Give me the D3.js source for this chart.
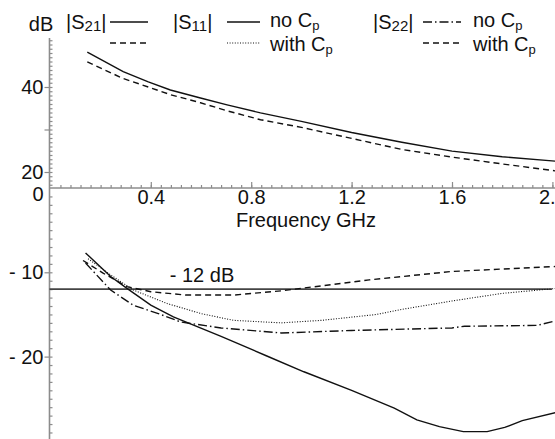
<!DOCTYPE html>
<html>
<head>
<meta charset="utf-8">
<script src="https://cdn.jsdelivr.net/npm/d3@7"></script>
<style>
  html, body { margin: 0; padding: 0; background: #fff; }
  svg { display: block; }
  svg text { font-family: "Liberation Sans", Arial, Helvetica, sans-serif; }
</style>
</head>
<body>
<svg id="chart" width="555" height="439"></svg>
<script>
// Frequency axis tick labels (GHz)
const freqTicks = [0.4, 0.8, 1.2, 1.6, 2.0];

// |S21| gain curves (dB) — upper panel
const s21Freq   = [0.147, 0.29, 0.39, 0.478, 0.598, 0.704, 0.837, 1.0, 1.2, 1.4, 1.6, 1.8, 2.02];
const s21NoCp   = [48.2, 43.6, 41.2, 39.3, 37.4, 35.8, 33.9, 31.9, 29.3, 27.0, 24.9, 23.6, 22.5];
const s21WithCp = [45.9, 42.0, 40.0, 38.2, 36.3, 34.4, 32.3, 30.5, 27.9, 25.3, 23.5, 21.9, 20.2];

// |S11| curves (dB) — lower panel
const s11NoCpFreq = [0.14, 0.24, 0.305, 0.40, 0.49, 0.68, 0.86, 1.01, 1.2, 1.37, 1.46, 1.55, 1.645, 1.74, 1.81, 1.88, 2.02];
const s11NoCp     = [-7.7, -10.5, -11.9, -13.9, -15.3, -17.6, -19.9, -21.8, -24.0, -26.1, -27.5, -28.3, -28.9, -28.9, -28.4, -27.6, -26.6];
const s11CpFreq   = [0.15, 0.24, 0.33, 0.465, 0.60, 0.73, 0.92, 1.08, 1.3, 1.4, 1.6, 1.8, 2.02];
const s11WithCp   = [-8.4, -10.3, -12.1, -13.7, -14.9, -15.7, -16.0, -15.7, -15.0, -14.4, -13.4, -12.5, -11.9];

// |S22| curves (dB) — lower panel
const s22NoCpFreq = [0.14, 0.24, 0.33, 0.43, 0.52, 0.68, 0.92, 1.2, 1.6, 1.65, 1.94, 2.02];
const s22NoCp     = [-8.9, -12.1, -13.9, -14.9, -15.9, -16.6, -17.2, -16.9, -16.6, -16.4, -16.3, -15.7];
const s22CpFreq   = [0.13, 0.21, 0.305, 0.40, 0.54, 0.73, 0.92, 1.27, 1.6, 2.02];
const s22WithCp   = [-8.6, -10.1, -11.7, -12.3, -12.7, -12.7, -12.2, -10.9, -9.9, -9.3];

// Reference level
const refLevel = -12;

const svg = d3.select("#chart");
const FS = 20;
const FONT = '"Liberation Sans", Arial, Helvetica, sans-serif';
const axisColor = "#8c8c8c";

const x = d3.scaleLinear().domain([0, 2]).range([50.4, 552.4]);
const yUp = d3.scaleLinear().domain([20, 40]).range([172, 87]);
const yLo = d3.scaleLinear().domain([0, -10]).range([188, 272.3]);
const axisX = 49.5;

// ---- axis lines
svg.append("line").attr("x1", axisX).attr("x2", axisX).attr("y1", 38).attr("y2", 439)
  .attr("stroke", axisColor).attr("stroke-width", 1.6);
svg.append("line").attr("x1", axisX).attr("x2", 555).attr("y1", yLo(0)).attr("y2", yLo(0))
  .attr("stroke", axisColor).attr("stroke-width", 1.6);

function styleAxis(g) {
  g.attr("font-family", FONT).attr("font-size", FS);
  g.select(".domain").remove();
  g.selectAll("line").attr("stroke", axisColor).attr("stroke-width", 1.2);
  g.selectAll("text").attr("fill", "#111");
}

// ---- frequency axis: ticks point up, labels below
const minorF = d3.range(1, 51).map(i => i * 0.04).filter(v => v <= 2.01);
const gxMinor = svg.append("g").attr("transform", `translate(0,${yLo(0)})`)
  .call(d3.axisBottom(x).tickValues(minorF).tickSizeInner(-3).tickSizeOuter(0).tickFormat(""));
const gxMajor = svg.append("g").attr("transform", `translate(0,${yLo(0)})`)
  .call(d3.axisBottom(x).tickValues(freqTicks).tickSizeInner(-6).tickSizeOuter(0).tickPadding(2)
    .tickFormat(d3.format(".1f")));
[gxMinor, gxMajor].forEach(styleAxis);

svg.append("text").attr("x", 306).attr("y", 227).attr("text-anchor", "middle")
  .attr("font-size", FS).attr("fill", "#111").text("Frequency GHz");

// ---- upper dB axis (|S21|)
const upMinor = d3.range(17, 52);
const gUpMinor = svg.append("g").attr("transform", `translate(${axisX},0)`)
  .call(d3.axisLeft(yUp).tickValues(upMinor).tickSizeInner(-3).tickSizeOuter(0).tickFormat(""));
const gUpMajor = svg.append("g").attr("transform", `translate(${axisX},0)`)
  .call(d3.axisLeft(yUp).tickValues([20, 30, 40]).tickSizeInner(5).tickSizeOuter(0).tickPadding(1)
    .tickFormat(d => d === 30 ? "" : d));

// ---- lower dB axis (|S11|, |S22|)
const loMinor = d3.range(-1, -30, -1);
const gLoMinor = svg.append("g").attr("transform", `translate(${axisX},0)`)
  .call(d3.axisLeft(yLo).tickValues(loMinor).tickSizeInner(-3).tickSizeOuter(0).tickFormat(""));
const gLoMajor = svg.append("g").attr("transform", `translate(${axisX},0)`)
  .call(d3.axisLeft(yLo).tickValues([0, -10, -20]).tickSizeInner(5).tickSizeOuter(0).tickPadding(1)
    .tickFormat(d => d === 0 ? "0" : "- " + (-d)));
[gUpMinor, gUpMajor, gLoMinor, gLoMajor].forEach(styleAxis);
gLoMajor.selectAll(".tick").filter(d => d === 0).select("line").remove();
gLoMajor.selectAll(".tick").filter(d => d === 0).select("text").attr("dy", "0.6em");

svg.append("text").attr("x", 41).attr("y", 31).attr("text-anchor", "middle")
  .attr("font-size", FS).attr("fill", "#111").text("dB");

// ---- -12 dB reference line
svg.append("line").attr("x1", axisX).attr("x2", 552).attr("y1", yLo(refLevel)).attr("y2", yLo(refLevel))
  .attr("stroke", "#444").attr("stroke-width", 1.6);
svg.append("text").attr("x", 202).attr("y", yLo(refLevel) - 7).attr("text-anchor", "middle")
  .attr("font-size", FS).attr("fill", "#111").text("- 12 dB");

// ---- curves
const styles = {
  solid: null,
  dashed: "6,4",
  dotted: "1,1.6",
  dashdot: "9,3,1.5,3"
};
function curve(freqs, vals, y, dash, w) {
  const line = d3.line().x((d, i) => x(freqs[i])).y(d => y(d));
  svg.append("path").datum(vals).attr("d", line)
    .attr("fill", "none").attr("stroke", "#111").attr("stroke-width", w || 1.4)
    .attr("stroke-dasharray", dash);
}
curve(s21Freq, s21NoCp, yUp, styles.solid);
curve(s21Freq, s21WithCp, yUp, styles.dashed);
curve(s11NoCpFreq, s11NoCp, yLo, styles.solid);
curve(s11CpFreq, s11WithCp, yLo, styles.dotted, 1.1);
curve(s22NoCpFreq, s22NoCp, yLo, styles.dashdot);
curve(s22CpFreq, s22WithCp, yLo, styles.dashed);

// ---- legend
function sLabel(xPos, yPos, sub) {
  const t = svg.append("text").attr("x", xPos).attr("y", yPos)
    .attr("font-size", FS).attr("fill", "#111");
  t.append("tspan").text("|S");
  t.append("tspan").attr("font-size", 15).attr("dy", 2).text(sub);
  t.append("tspan").attr("dy", -2).text("|");
}
function cpLabel(xPos, yPos, pre) {
  const t = svg.append("text").attr("x", xPos).attr("y", yPos)
    .attr("font-size", FS).attr("fill", "#111");
  t.append("tspan").text(pre + " C");
  t.append("tspan").attr("font-size", 13).attr("dy", 3).text("p");
}
function legLine(x1, x2, yPos, dash, w) {
  svg.append("line").attr("x1", x1).attr("x2", x2).attr("y1", yPos).attr("y2", yPos)
    .attr("stroke", "#111").attr("stroke-width", w || 1.4).attr("stroke-dasharray", dash);
}
const row1 = 22, row2 = 43;
sLabel(66, 29, "21");
legLine(110, 148, row1, styles.solid);
legLine(110, 148, row2, styles.dashed);

sLabel(173, 29, "11");
legLine(227, 260, row1, styles.solid);
legLine(227, 260, row2, styles.dotted, 1.1);
cpLabel(270, 27, "no");
cpLabel(270, 51, "with");

sLabel(373, 29, "22");
legLine(423, 461, row1, styles.dashdot);
legLine(423, 461, row2, styles.dashed);
cpLabel(473, 27, "no");
cpLabel(473, 51, "with");
</script>
</body>
</html>
